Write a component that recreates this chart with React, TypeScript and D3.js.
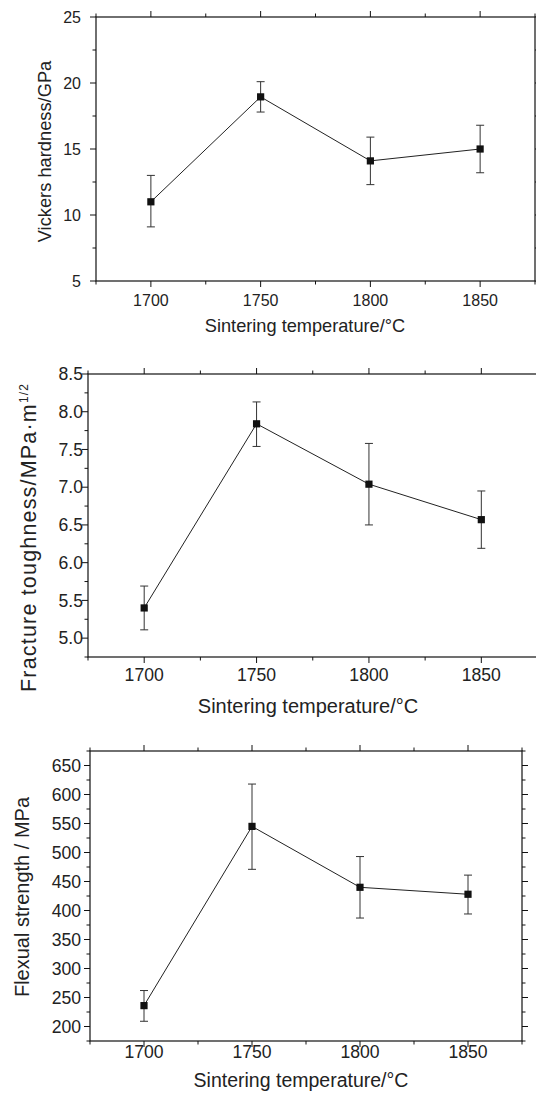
import React from 'react';
import * as d3 from 'd3';

const temperatures = [1700, 1750, 1800, 1850];
const xMajorTicks = [1700, 1750, 1800, 1850];
const xMinorTicks = [1675, 1725, 1775, 1825, 1875];

const hardness = [11.0, 18.95, 14.1, 15.0];
const hardnessLow = [9.1, 17.8, 12.3, 13.2];
const hardnessHigh = [13.0, 20.1, 15.9, 16.8];
const hardnessTicks = [5, 10, 15, 20, 25];
const hardnessMinor = [7.5, 12.5, 17.5, 22.5];

const toughness = [5.4, 7.84, 7.04, 6.57];
const toughnessLow = [5.11, 7.54, 6.5, 6.19];
const toughnessHigh = [5.69, 8.13, 7.58, 6.95];
const toughnessTicks = [5.0, 5.5, 6.0, 6.5, 7.0, 7.5, 8.0, 8.5];
const toughnessMinor = [4.75, 5.25, 5.75, 6.25, 6.75, 7.25, 7.75, 8.25];

const strength = [236, 545, 440, 428];
const strengthLow = [209, 471, 387, 394];
const strengthHigh = [262, 618, 493, 461];
const strengthTicks = [200, 250, 300, 350, 400, 450, 500, 550, 600, 650];
const strengthMinor = [175, 225, 275, 325, 375, 425, 475, 525, 575, 625, 675];

const xTitle = 'Sintering temperature/°C';

type PanelProps = {
  left: number; right: number; top: number; bottom: number;
  yDomain: [number, number];
  yTicks: number[]; yMinor: number[]; fmt: (v: number) => string;
  values: number[]; lows: number[]; highs: number[];
  yLabel: React.ReactNode; yLabelX: number; yLabelY: number; yLabelSize: number; yLabelLength?: number;
  fontSize: number; tickLabelRight: number; xTickLabelY: number;
  xTitleX: number; xTitleY: number; xTitleSize: number;
};

function Panel(p: PanelProps) {
  const x = d3.scaleLinear().domain([1675, 1875]).range([p.left, p.right]);
  const y = d3.scaleLinear().domain(p.yDomain).range([p.bottom, p.top]);
  const line = d3.line<number>().x((_, i) => x(temperatures[i])).y((d) => y(d));
  const maj = 6, min = 3.5;
  const axisColor = '#111';
  const font = "'Liberation Sans', Arial, Helvetica, sans-serif";
  return (
    <g fontFamily={font} fill="#222">
      <rect x={p.left} y={p.top} width={p.right - p.left} height={p.bottom - p.top}
        fill="none" stroke={axisColor} strokeWidth={1.2} />
      {xMajorTicks.map((t) => (
        <g key={'xM' + t} stroke={axisColor} strokeWidth={1}>
          <line x1={x(t)} x2={x(t)} y1={p.bottom} y2={p.bottom + maj} />
          <line x1={x(t)} x2={x(t)} y1={p.top} y2={p.top - maj} />
        </g>
      ))}
      {xMinorTicks.map((t) => (
        <g key={'xm' + t} stroke={axisColor} strokeWidth={1}>
          <line x1={x(t)} x2={x(t)} y1={p.bottom} y2={p.bottom + min} />
          <line x1={x(t)} x2={x(t)} y1={p.top} y2={p.top - min} />
        </g>
      ))}
      {p.yTicks.map((t) => (
        <g key={'yM' + t} stroke={axisColor} strokeWidth={1}>
          <line x1={p.left} x2={p.left - maj} y1={y(t)} y2={y(t)} />
          <line x1={p.right} x2={p.right + maj} y1={y(t)} y2={y(t)} />
        </g>
      ))}
      {p.yMinor.map((t) => (
        <g key={'ym' + t} stroke={axisColor} strokeWidth={1}>
          <line x1={p.left} x2={p.left - min} y1={y(t)} y2={y(t)} />
          <line x1={p.right} x2={p.right + min} y1={y(t)} y2={y(t)} />
        </g>
      ))}
      {p.yTicks.map((t) => (
        <text key={'yl' + t} x={p.tickLabelRight} y={y(t)} dy="0.35em" textAnchor="end"
          fontSize={p.fontSize}>{p.fmt(t)}</text>
      ))}
      {xMajorTicks.map((t) => (
        <text key={'xl' + t} x={x(t)} y={p.xTickLabelY} dy="0.35em" textAnchor="middle"
          fontSize={p.fontSize}>{t}</text>
      ))}
      <text x={p.xTitleX} y={p.xTitleY} dy="0.35em" textAnchor="middle"
        fontSize={p.xTitleSize}>{xTitle}</text>
      <text transform={`translate(${p.yLabelX},${p.yLabelY}) rotate(-90)`} dy="0.35em"
        textAnchor="middle" fontSize={p.yLabelSize}
        {...(p.yLabelLength ? { textLength: p.yLabelLength, lengthAdjust: 'spacing' } : {})}>{p.yLabel}</text>
      <path d={line(p.values) || ''} fill="none" stroke="#222" strokeWidth={1} />
      {p.values.map((v, i) => {
        const cx = x(temperatures[i]);
        return (
          <g key={'e' + i} stroke="#333" strokeWidth={1}>
            <line x1={cx} x2={cx} y1={y(p.lows[i])} y2={y(p.highs[i])} />
            <line x1={cx - 4} x2={cx + 4} y1={y(p.lows[i])} y2={y(p.lows[i])} />
            <line x1={cx - 4} x2={cx + 4} y1={y(p.highs[i])} y2={y(p.highs[i])} />
          </g>
        );
      })}
      {p.values.map((v, i) => (
        <rect key={'m' + i} x={x(temperatures[i]) - 3.6} y={y(v) - 3.6} width={7.2} height={7.2}
          fill="#111" />
      ))}
    </g>
  );
}

export default function App() {
  return (
    <svg width={536} height={1102} style={{ position: 'absolute', left: 0, top: 0, background: '#fff' }}>
      <rect width={536} height={1102} fill="#fff" />
      <Panel left={96} right={535} top={17} bottom={281} yDomain={[5, 25]}
        yTicks={hardnessTicks} yMinor={hardnessMinor} fmt={(v) => d3.format('d')(v)}
        values={hardness} lows={hardnessLow} highs={hardnessHigh}
        yLabel="Vickers hardness/GPa" yLabelX={45} yLabelY={151.5} yLabelSize={18.3}
        fontSize={16} tickLabelRight={81} xTickLabelY={300}
        xTitleX={305} xTitleY={326} xTitleSize={18.2} />
      <Panel left={88} right={537.5} top={374} bottom={657} yDomain={[4.75, 8.5]}
        yTicks={toughnessTicks} yMinor={toughnessMinor} fmt={(v) => d3.format('.1f')(v)}
        values={toughness} lows={toughnessLow} highs={toughnessHigh}
        yLabel={<>Fracture toughness/MPa·m<tspan dy="-8" fontSize={12}>1/2</tspan></>}
        yLabelX={28} yLabelY={538} yLabelSize={21.5} yLabelLength={308}
        fontSize={17.6} tickLabelRight={83} xTickLabelY={675}
        xTitleX={308} xTitleY={706} xTitleSize={20} />
      <Panel left={90} right={522} top={751} bottom={1041} yDomain={[175, 675]}
        yTicks={strengthTicks} yMinor={strengthMinor} fmt={(v) => d3.format('d')(v)}
        values={strength} lows={strengthLow} highs={strengthHigh}
        yLabel="Flexual strength / MPa" yLabelX={22} yLabelY={897} yLabelSize={20}
        fontSize={17.6} tickLabelRight={81} xTickLabelY={1052}
        xTitleX={301} xTitleY={1080} xTitleSize={19.5} />
    </svg>
  );
}
